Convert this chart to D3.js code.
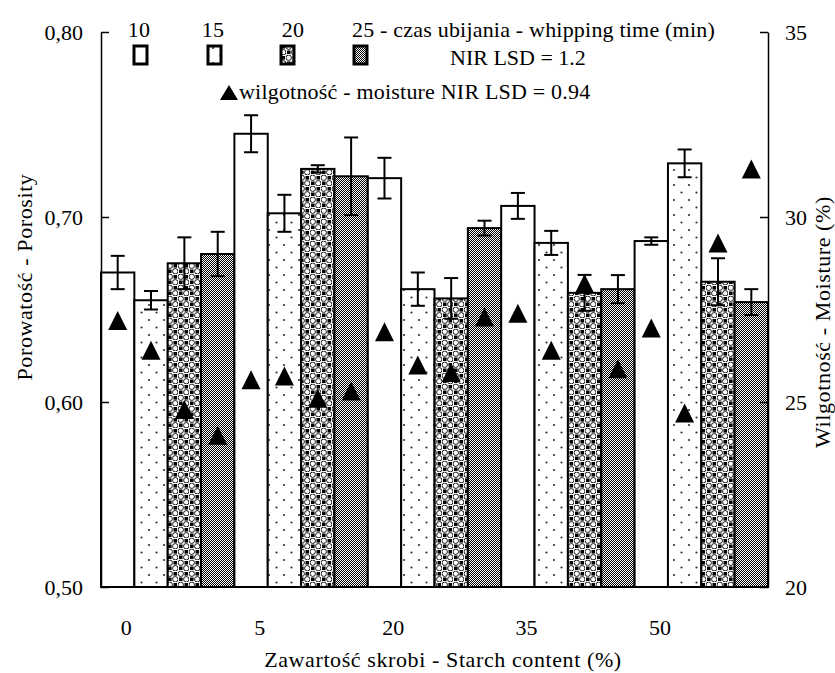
<!DOCTYPE html>
<html>
<head>
<meta charset="utf-8">
<script src="https://cdn.jsdelivr.net/npm/d3@7"></script>
<style>
  body { margin: 0; background: #fff; }
</style>
</head>
<body>
<div id="chart"></div>
<script>
// Data
const groups = ["0", "5", "20", "35", "50"];          // starch content (%)
const times = ["10", "15", "20", "25"];               // whipping time (min)
const porosity = [
  [0.670, 0.655, 0.675, 0.680],
  [0.745, 0.702, 0.726, 0.722],
  [0.721, 0.661, 0.656, 0.694],
  [0.706, 0.686, 0.659, 0.661],
  [0.687, 0.729, 0.665, 0.654]
];
const porosityErr = [
  [0.009, 0.005, 0.014, 0.012],
  [0.010, 0.010, 0.002, 0.021],
  [0.011, 0.009, 0.011, 0.004],
  [0.007, 0.0065, 0.0097, 0.0076],
  [0.002, 0.0075, 0.0127, 0.007]
];
const moisture = [
  [27.2, 26.4, 24.8, 24.1],
  [25.6, 25.7, 25.1, 25.3],
  [26.9, 26.0, 25.8, 27.3],
  [27.4, 26.4, 28.2, 25.9],
  [27.0, 24.7, 29.3, 31.3]
];
const leftTicks = [0.5, 0.6, 0.7, 0.8];
const rightTicks = [20, 25, 30, 35];

const FONT = "Liberation Serif";
const W = 835, H = 673;
const margin = { top: 32, right: 67, bottom: 86, left: 101 };
const width = W - margin.left - margin.right;
const height = H - margin.top - margin.bottom;

const svg = d3.select("#chart")
  .append("svg")
  .attr("width", W)
  .attr("height", H);

// Patterns for the four whipping times
const defs = svg.append("defs");

const pDots = defs.append("pattern")
  .attr("id", "p15").attr("patternUnits", "userSpaceOnUse")
  .attr("width", 15).attr("height", 15);
pDots.append("rect").attr("width", 15).attr("height", 15).attr("fill", "#fff");
pDots.append("circle").attr("cx", 3).attr("cy", 3).attr("r", 1.1).attr("fill", "#333");
pDots.append("circle").attr("cx", 10.5).attr("cy", 10.5).attr("r", 1.1).attr("fill", "#333");

const pCheck = defs.append("pattern")
  .attr("id", "p20").attr("patternUnits", "userSpaceOnUse")
  .attr("width", 11).attr("height", 11);
pCheck.append("rect").attr("width", 11).attr("height", 11).attr("fill", "#fff");
pCheck.append("rect").attr("x", 6.5).attr("y", 1).attr("width", 3.6).attr("height", 3.6).attr("fill", "#000");
pCheck.append("rect").attr("x", 1).attr("y", 6.5).attr("width", 3.6).attr("height", 3.6).attr("fill", "#000");
[[2.75, 2.75], [8.25, 8.25]].forEach(([cx, cy]) => {
  pCheck.append("circle").attr("cx", cx).attr("cy", cy).attr("r", 2.7)
    .attr("fill", "#fff").attr("stroke", "#000").attr("stroke-width", 0.9);
});

const pGrey = defs.append("pattern")
  .attr("id", "p25").attr("patternUnits", "userSpaceOnUse")
  .attr("width", 2).attr("height", 2);
pGrey.append("rect").attr("width", 2).attr("height", 2).attr("fill", "#fff");
pGrey.append("rect").attr("width", 1).attr("height", 1).attr("fill", "#000");
pGrey.append("rect").attr("x", 1).attr("y", 1).attr("width", 1).attr("height", 1).attr("fill", "#000");

const fills = ["#fff", "url(#p15)", "url(#p20)", "url(#p25)"];

const g = svg.append("g")
  .attr("transform", `translate(${margin.left},${margin.top})`);

// Scales
const x0 = d3.scaleBand().domain(groups).range([0, width]).padding(0);
const x1 = d3.scaleBand().domain(times).range([0, x0.bandwidth()]).padding(0);
const y = d3.scaleLinear().domain([0.5, 0.8]).range([height, 0]);
const y2 = d3.scaleLinear().domain([20, 35]).range([height, 0]);

// Flatten rows
const rows = [];
groups.forEach((grp, i) => {
  times.forEach((t, j) => {
    rows.push({ grp, t, j, p: porosity[i][j], e: porosityErr[i][j], m: moisture[i][j] });
  });
});
const cx = d => x0(d.grp) + x1(d.t) + x1.bandwidth() / 2;

// Bars
g.selectAll(".bar")
  .data(rows)
  .enter()
  .append("rect")
  .attr("class", "bar")
  .attr("x", d => x0(d.grp) + x1(d.t))
  .attr("y", d => y(d.p))
  .attr("width", x1.bandwidth())
  .attr("height", d => height - y(d.p))
  .attr("fill", d => fills[d.j])
  .attr("stroke", "#000")
  .attr("stroke-width", 2);

// Error bars
const capW = 7;
const err = g.selectAll(".err")
  .data(rows)
  .enter()
  .append("g")
  .attr("class", "err")
  .attr("stroke", "#000")
  .attr("stroke-width", 2);
err.append("line")
  .attr("x1", cx).attr("x2", cx)
  .attr("y1", d => y(d.p + d.e))
  .attr("y2", d => y(d.p - d.e));
err.append("line")
  .attr("x1", d => cx(d) - capW).attr("x2", d => cx(d) + capW)
  .attr("y1", d => y(d.p + d.e)).attr("y2", d => y(d.p + d.e));
err.append("line")
  .attr("x1", d => cx(d) - capW).attr("x2", d => cx(d) + capW)
  .attr("y1", d => y(d.p - d.e)).attr("y2", d => y(d.p - d.e));

// Moisture triangles
const tri = (w, h) => `M0,${-h / 2}L${w / 2},${h / 2}L${-w / 2},${h / 2}Z`;
g.selectAll(".moist")
  .data(rows)
  .enter()
  .append("path")
  .attr("class", "moist")
  .attr("d", tri(19, 19))
  .attr("transform", d => `translate(${cx(d)},${y2(d.m)})`)
  .attr("fill", "#000");

// Axes
const leftAxis = g.append("g")
  .call(d3.axisLeft(y).tickValues(leftTicks).tickSizeInner(-8).tickSizeOuter(0)
    .tickPadding(18).tickFormat(d => d3.format(".2f")(d).replace(".", ",")));
leftAxis.select(".domain").attr("stroke", "#000").attr("stroke-width", 1.5);
leftAxis.selectAll(".tick line").attr("stroke", "#000").attr("stroke-width", 1.5);

const rightAxis = g.append("g")
  .attr("transform", `translate(${width},0)`)
  .call(d3.axisRight(y2).tickValues(rightTicks).tickSizeInner(-8).tickSizeOuter(0)
    .tickPadding(17));
rightAxis.select(".domain").attr("stroke", "#000").attr("stroke-width", 1.5);
rightAxis.selectAll(".tick line").attr("stroke", "#000").attr("stroke-width", 1.5);

// Baseline
g.append("line")
  .attr("x1", 0).attr("x2", width)
  .attr("y1", height).attr("y2", height)
  .attr("stroke", "#000").attr("stroke-width", 1.5);

// Category labels (shifted toward the first bar of each group, as in the source)
g.selectAll(".xlab")
  .data(groups)
  .enter()
  .append("text")
  .attr("class", "xlab")
  .attr("x", d => x0(d) + x0.bandwidth() * 0.19)
  .attr("y", height + 48)
  .attr("text-anchor", "middle")
  .text(d => d);

// Axis titles
svg.append("text")
  .attr("transform", "translate(32,277) rotate(-90)")
  .attr("text-anchor", "middle")
  .attr("letter-spacing", 0.6)
  .text("Porowatość - Porosity");

svg.append("text")
  .attr("transform", "translate(830,322) rotate(-90)")
  .attr("text-anchor", "middle")
  .attr("letter-spacing", 0.6)
  .text("Wilgotność - Moisture (%)");

svg.append("text")
  .attr("x", 443).attr("y", 667)
  .attr("text-anchor", "middle")
  .attr("letter-spacing", 0.6)
  .text("Zawartość skrobi - Starch content (%)");

// Legend
const legendX = [139, 213, 293, 352];
const legend = svg.append("g");
legend.selectAll(".lt")
  .data(times)
  .enter()
  .append("text")
  .attr("x", (d, i) => legendX[i])
  .attr("y", 37)
  .attr("text-anchor", (d, i) => i < 3 ? "middle" : "start")
  .attr("letter-spacing", 0.2)
  .text((d, i) => i < 3 ? d : d + " - czas ubijania - whipping time (min)");

const boxX = [134, 208, 281, 354];
legend.selectAll(".lb")
  .data(times)
  .enter()
  .append("rect")
  .attr("x", (d, i) => boxX[i])
  .attr("y", 46)
  .attr("width", 13)
  .attr("height", 18)
  .attr("fill", (d, i) => fills[i])
  .attr("stroke", "#000")
  .attr("stroke-width", 3);

legend.append("text")
  .attr("x", 450).attr("y", 65)
  .text("NIR LSD = 1.2");

legend.append("path")
  .attr("d", tri(18, 15))
  .attr("transform", "translate(229,92.5)")
  .attr("fill", "#000");
legend.append("text")
  .attr("x", 239).attr("y", 99)
  .attr("letter-spacing", 0.2)
  .text("wilgotność - moisture NIR LSD = 0.94");

// Serif font on every label
svg.selectAll("text")
  .attr("font-family", FONT)
  .attr("font-size", 22)
  .attr("fill", "#000");
</script>
</body>
</html>
